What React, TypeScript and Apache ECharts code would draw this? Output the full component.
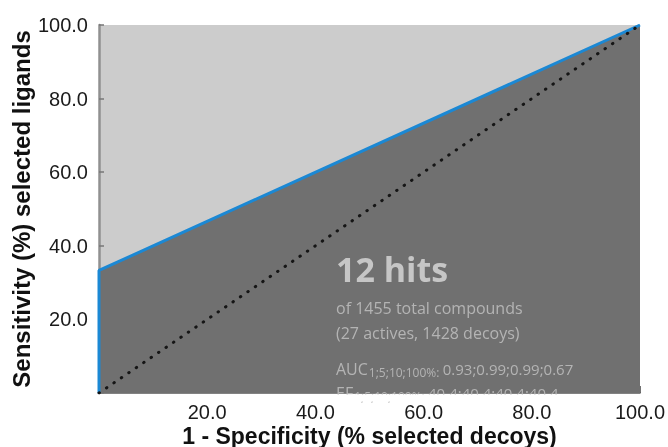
import React, { useEffect, useRef } from "react";
import * as echarts from "echarts";

// ROC curve points: [1 - specificity (%), sensitivity (%)]
const rocX = [0, 0, 0, 100];
const rocY = [0, 7.4, 33.3, 100];
// random-selection diagonal
const diagX = [0, 100];
const diagY = [0, 100];

const hitsTitle = "12 hits";
const infoLine1 = "of 1455 total compounds";
const infoLine2 = "(27 actives, 1428 decoys)";
const aucLabel = "AUC";
const aucSub = "1;5;10;100%";
const aucValues = "0.93;0.99;0.99;0.67";
const efLabel = "EF";
const efSub = "1;5;10;100%";
const efValues = "40.4;40.4;40.4;40.4";

const axisFont = "'Liberation Sans', Arial, sans-serif";
const noteFont = "'Open Sans', 'Noto Sans', sans-serif";

export default function App() {
  const ref = useRef<HTMLDivElement>(null);
  useEffect(() => {
    document.body.style.margin = "0";
    if (!ref.current) return;
    const chart = echarts.init(ref.current, null, { renderer: "svg" });
    const fmt = (v: number) => (v === 0 ? "" : v.toFixed(1));
    const note = (text: string, y: number, size: number, color: string, weight = "normal") => ({
      type: "text",
      left: 336,
      top: y,
      z: 5,
      style: { text, fill: color, font: `${weight} ${size}px ${noteFont}` },
    });
    const richLine = (label: string, sub: string, vals: string, y: number) => ({
      type: "text",
      left: 336,
      top: y,
      z: 5,
      style: {
        text: `{a|${label}}{s|${sub}:} {b|${vals}}`,
        rich: {
          a: { fontFamily: noteFont, fontSize: 16, fill: "#b4b4b4", color: "#b4b4b4" },
          b: { fontFamily: noteFont, fontSize: 15, fill: "#b4b4b4", color: "#b4b4b4" },
          s: { fontFamily: noteFont, fontSize: 12, fill: "#b4b4b4", color: "#b4b4b4", verticalAlign: "bottom", padding: [7, 0, 0, 1] },
        },
      },
    });
    chart.setOption({
      animation: false,
      grid: {
        left: 99,
        right: 28,
        top: 25,
        bottom: 54,
        containLabel: false,
        outerBoundsMode: "none",
        show: true,
        backgroundColor: "#cccccc",
        borderWidth: 0,
      },
      xAxis: {
        type: "value",
        min: 0,
        max: 100,
        interval: 20,
        name: "1 - Specificity (% selected decoys)",
        nameLocation: "middle",
        nameGap: 31,
        nameMoveOverlap: false,
        nameTextStyle: { fontFamily: axisFont, fontWeight: "bold", fontSize: 23, color: "#111" },
        axisLine: { show: true, lineStyle: { color: "#5a5a5a", width: 1.5 } },
        axisTick: { show: true, inside: true, length: 7, lineStyle: { color: "#444", width: 1.5 } },
        axisLabel: { formatter: fmt, fontFamily: axisFont, fontSize: 20, color: "#1a1a1a", margin: 9 },
        splitLine: { show: false },
      },
      yAxis: {
        type: "value",
        min: 0,
        max: 100,
        interval: 20,
        name: "Sensitivity (%) selected ligands",
        nameLocation: "middle",
        nameGap: 66,
        nameMoveOverlap: false,
        nameTextStyle: { fontFamily: axisFont, fontWeight: "bold", fontSize: 24, color: "#111" },
        axisLine: { show: true, lineStyle: { color: "#909090", width: 2.5 } },
        axisTick: { show: true, inside: true, length: 5, lineStyle: { color: "#777", width: 1.5 } },
        axisLabel: { formatter: fmt, fontFamily: axisFont, fontSize: 20, color: "#1a1a1a", margin: 11 },
        splitLine: { show: false },
      },
      series: [
        {
          type: "line",
          data: rocX.map((x, i) => [x, rocY[i]]),
          showSymbol: false,
          lineStyle: { color: "#1b88d4", width: 3 },
          areaStyle: { color: "#707070", opacity: 1 },
          z: 2,
        },
        {
          type: "line",
          data: diagX.map((x, i) => [x, diagY[i]]),
          showSymbol: false,
          lineStyle: { color: "#151515", width: 3, type: [0.5, 8.5], cap: "round" },
          z: 3,
        },
      ],
      graphic: [
        note(hitsTitle, 252, 34, "#c6c6c6", "bold"),
        note(infoLine1, 300, 16, "#b4b4b4"),
        note(infoLine2, 325, 16, "#b4b4b4"),
        richLine(aucLabel, aucSub, aucValues, 361),
        richLine(efLabel, efSub, efValues, 385),
        {
          type: "rect",
          z: 10,
          shape: { x: 330, y: 394.5, width: 320, height: 7 },
          style: { fill: "#ffffff" },
        },
      ],
    });
    return () => chart.dispose();
  }, []);
  return <div ref={ref} style={{ width: 668, height: 447, position: "fixed", left: 0, top: 0 }} />;
}
